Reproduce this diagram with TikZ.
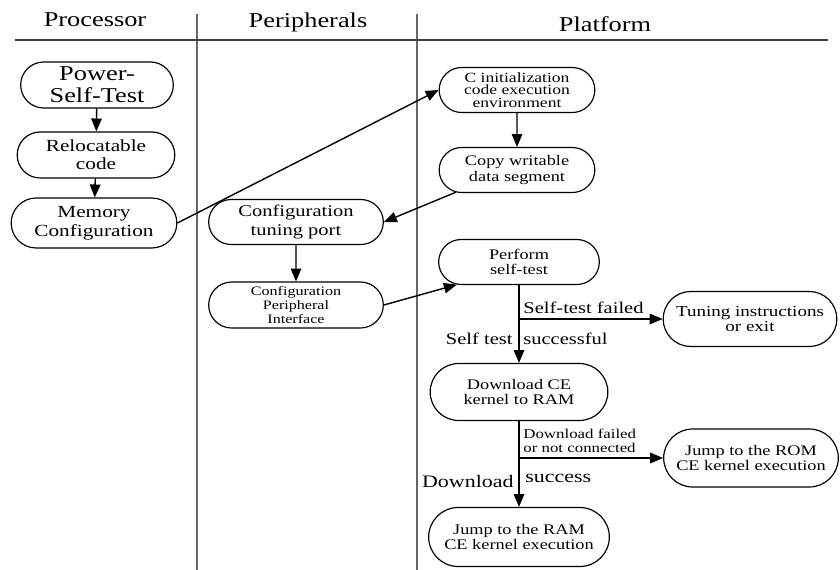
\documentclass[tikz,border=0pt]{standalone}
\usepackage{fontspec}
\setmainfont{Liberation Serif}[FakeStretch=1.25]
\usetikzlibrary{shapes.misc,arrows.meta}

\tikzset{
  stage/.style={draw=black, line width=1pt, rounded rectangle, align=center, inner sep=1pt},
  arr/.style={draw=black, line width=1.2pt, -{Triangle[length=11pt,width=9pt]}},
  lane/.style={draw=black!60, line width=1.5pt},
  lbl/.style={inner sep=1pt},
}
\newcommand{\fs}[2]{\fontsize{#1}{#2}\selectfont}

\begin{document}
\begin{tikzpicture}[x=0.03cm,y=-0.03cm]
\useasboundingbox (0,0) rectangle (840,570);

% swimlanes
\draw[lane] (197,14) -- (197,570);
\draw[lane] (417,14) -- (417,570);
\draw[draw=black!75, line width=1.2pt] (15,40) -- (828,40);
\node[lbl, font=\fs{18}{20}] (hproc) at (95,20) {Processor};
\node[lbl, font=\fs{18}{20}] (hperi) at (308,22) {Peripherals};
\node[lbl, font=\fs{18}{20}] (hplat) at (605,24) {Platform};

% processor column
\node[stage, minimum width=4.65cm, minimum height=1.38cm, font=\fs{18}{19}] (pst) at (97,85) {Power-\\Self-Test};
\node[stage, minimum width=4.8cm, minimum height=1.38cm, font=\fs{14.5}{15.5}] (reloc) at (96,155) {Relocatable\\code};
\node[stage, minimum width=5.04cm, minimum height=1.5cm, font=\fs{14.5}{16.5}] (mem) at (94,223) {Memory\\Configuration};

% peripherals column
\node[stage, minimum width=5.31cm, minimum height=1.35cm, font=\fs{14}{17}] (tune) at (296,222) {Configuration\\tuning port};
\node[stage, minimum width=5.31cm, minimum height=1.38cm, font=\fs{11}{12.3}] (cpi) at (296,305) {Configuration\\Peripheral\\Interface};

% platform column
\node[stage, minimum width=4.74cm, minimum height=1.35cm, font=\fs{12}{10.6}] (cinit) at (517,90) {C initialization\\code execution\\environment};
\node[stage, minimum width=4.74cm, minimum height=1.35cm, font=\fs{12.5}{14.5}] (copy) at (517,170) {Copy writable\\data segment};
\node[stage, minimum width=4.89cm, minimum height=1.35cm, font=\fs{12.5}{13.5}] (perf) at (519,262) {Perform\\self-test};
\node[stage, minimum width=5.28cm, minimum height=1.65cm, font=\fs{13}{13}] (tinst) at (750,319) {Tuning instructions\\or exit};
\node[stage, minimum width=5.4cm, minimum height=1.71cm, font=\fs{12.5}{13.6}] (dl) at (519,392) {Download CE\\kernel to RAM};
\node[stage, minimum width=5.31cm, minimum height=1.74cm, font=\fs{12.5}{13}] (rom) at (751,458) {Jump to the ROM\\CE kernel execution};
\node[stage, minimum width=5.49cm, minimum height=1.77cm, font=\fs{12.5}{13.6}] (ram) at (519,537) {Jump to the RAM\\CE kernel execution};

\coordinate (failsplit) at (519,319);
\coordinate (dlsplit) at (519,458);

% connectors
\draw[arr] (pst) -- (reloc);
\draw[arr] (reloc) -- (mem);
\draw[arr] (mem.east) -- (cinit.west);
\draw[arr] (cinit) -- (copy);
\draw[arr] (copy.200) -- (tune.east);
\draw[arr] (tune) -- (cpi);
\draw[arr] (cpi.east) -- (perf.200);
\draw[arr] (perf.south) -- (dl.north);
\draw[arr] (failsplit) -- (tinst.west);
\draw[arr] (dl.south) -- (ram.north);
\draw[arr] (dlsplit) -- (rom.west);

% branch labels
\node[lbl, anchor=south west, font=\fs{14}{15}] (lfail) at (522,315) {Self-test failed};
\node[lbl, anchor=east, font=\fs{14}{15}] (lok1) at (514,339) {Self test};
\node[lbl, anchor=west, font=\fs{14}{15}] (lok2) at (522,339) {successful};
\node[lbl, anchor=south west, align=left, font=\fs{11.5}{12}] (ldlfail) at (522,454) {Download failed\\or not connected};
\node[lbl, anchor=east, font=\fs{15}{16}] (ldl1) at (515,481) {Download};
\node[lbl, anchor=west, font=\fs{15}{16}] (ldl2) at (524,478) {success};
\end{tikzpicture}
\end{document}
